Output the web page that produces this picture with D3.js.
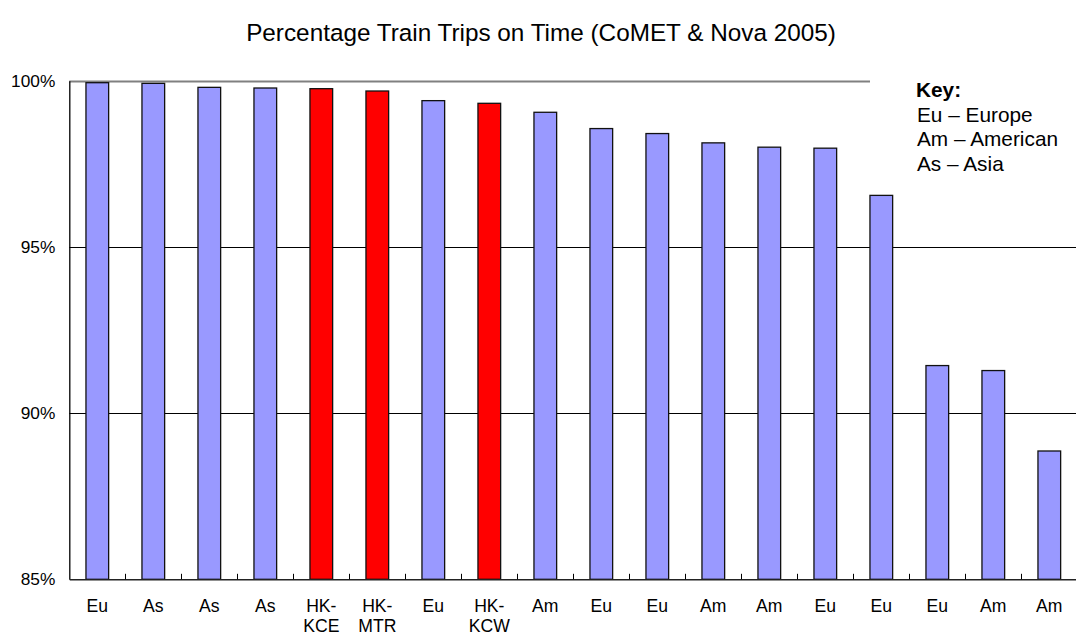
<!DOCTYPE html>
<html>
<head>
<meta charset="utf-8">
<script src="https://cdn.jsdelivr.net/npm/d3@7"></script>
<style>
  html, body { margin: 0; padding: 0; background: #fff; }
  svg { display: block; font-family: "Liberation Sans", Arial, sans-serif; }
</style>
</head>
<body>
<svg id="chart" width="1076" height="637"></svg>
<script>
// Operator region / name for each bar, left to right
const categories = ["Eu", "As", "As", "As", "HK-\nKCE", "HK-\nMTR", "Eu", "HK-\nKCW", "Am",
                    "Eu", "Eu", "Am", "Am", "Eu", "Eu", "Eu", "Am", "Am"];
// Percentage of train trips on time
const onTime = [99.94, 99.92, 99.80, 99.78, 99.76, 99.69, 99.40, 99.32, 99.05,
                98.56, 98.41, 98.13, 98.00, 97.97, 96.55, 91.43, 91.28, 88.86];
// Hong Kong operators are highlighted
const isHongKong = [false, false, false, false, true, true, false, true, false,
                    false, false, false, false, false, false, false, false, false];
const yTicks = [85, 90, 95, 100];
const keyLines = ["Eu \u2013 Europe", "Am \u2013 American", "As \u2013 Asia"];
const title = "Percentage Train Trips on Time (CoMET & Nova 2005)";

const svg = d3.select("#chart");
const plotLeft = 69.3, plotRight = 1077.3, plotTop = 80.7, plotBottom = 579.3;

const idx = d3.range(categories.length);
const y = d3.scaleLinear().domain([85, 100]).range([plotBottom, plotTop]);
const cat = d3.scaleBand().domain(idx).range([plotLeft, plotRight]).padding(0);
const x = d3.scaleBand().domain(idx).range([plotLeft, plotRight])
  .paddingInner(0.595).paddingOuter(0.2975);

// Title
svg.append("text")
  .attr("x", 541).attr("y", 41)
  .attr("text-anchor", "middle")
  .attr("font-size", 24.3)
  .attr("fill", "#000")
  .text(title);

// Horizontal gridlines
const grid = svg.append("g");
grid.selectAll("line")
  .data(yTicks.filter(d => d > 85))
  .join("line")
  .attr("x1", plotLeft).attr("x2", 1076)
  .attr("y1", d => Math.round(y(d)) + 0.5).attr("y2", d => Math.round(y(d)) + 0.5)
  .attr("stroke", d => d === 100 ? "#808080" : "#000")
  .attr("stroke-width", d => d === 100 ? 2 : 1);

// Key box (white background hides the top gridline behind it)
const key = svg.append("g");
key.append("rect")
  .attr("x", 870).attr("y", 66).attr("width", 206).attr("height", 120)
  .attr("fill", "#fff");
key.append("text")
  .attr("x", 916).attr("y", 96.5)
  .attr("font-size", 20.8).attr("font-weight", "bold")
  .text("Key:");
key.selectAll("text.item")
  .data(keyLines)
  .join("text")
  .attr("class", "item")
  .attr("x", 917).attr("y", (d, i) => 121.7 + i * 24.7)
  .attr("font-size", 20.8)
  .text(d => d);

// Bars
svg.append("g")
  .selectAll("rect")
  .data(idx)
  .join("rect")
  .attr("x", i => x(i))
  .attr("width", x.bandwidth())
  .attr("y", i => y(onTime[i]))
  .attr("height", i => y(85) - y(onTime[i]))
  .attr("fill", i => isHongKong[i] ? "#ff0000" : "#9999ff")
  .attr("stroke", "#111")
  .attr("stroke-width", 1.3);

// Y axis
const yAxis = svg.append("g")
  .attr("transform", `translate(${plotLeft},0)`)
  .call(d3.axisLeft(y).tickValues(yTicks).tickFormat(d => d + "%").tickSize(0).tickPadding(14));
yAxis.select(".domain").attr("stroke", "#000").attr("stroke-width", 1.3);
yAxis.selectAll("text").attr("font-size", 17.3).attr("fill", "#000")
  .attr("font-family", "Liberation Sans, Arial, sans-serif");

// X axis: labels centred under the bars
const xAxis = svg.append("g")
  .attr("transform", `translate(0,${plotBottom})`)
  .call(d3.axisBottom(cat).tickSize(0).tickFormat(""));
xAxis.select(".domain").attr("stroke", "#222").attr("stroke-width", 1.5);
xAxis.selectAll(".tick").each(function(i) {
  const lines = categories[i].split("\n");
  const t = d3.select(this).append("text")
    .attr("text-anchor", "middle")
    .attr("font-size", 17.6)
    .attr("fill", "#000")
    .attr("font-family", "Liberation Sans, Arial, sans-serif");
  lines.forEach((s, k) => {
    t.append("tspan").attr("x", 0).attr("y", 32.4 + k * 20.5).text(s);
  });
});

// Tick marks at category boundaries, pointing up into the plot
svg.append("g")
  .selectAll("line")
  .data(idx.slice(1))
  .join("line")
  .attr("x1", i => Math.round(cat(i)) + 0.5).attr("x2", i => Math.round(cat(i)) + 0.5)
  .attr("y1", plotBottom).attr("y2", plotBottom - 5.5)
  .attr("stroke", "#000").attr("stroke-width", 1);
</script>
</body>
</html>
